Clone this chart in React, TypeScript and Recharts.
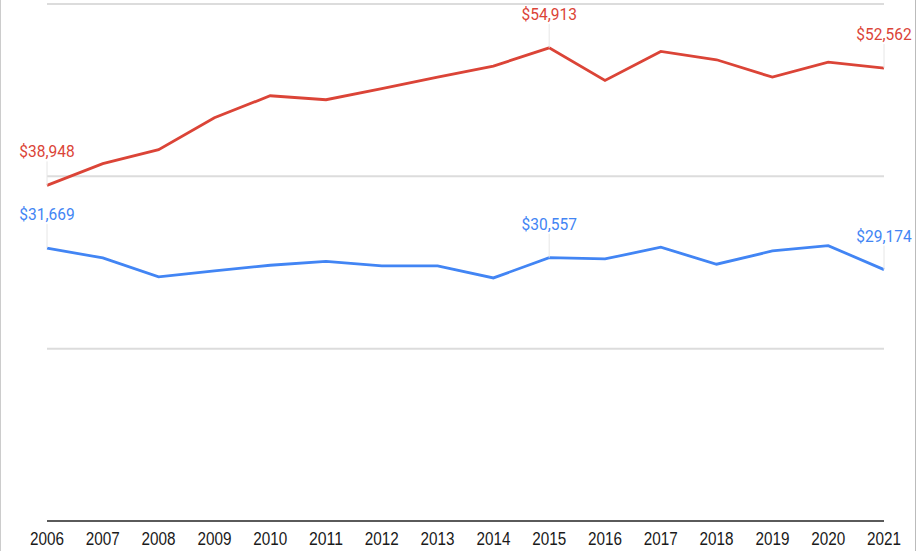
import { LineChart, Line, XAxis, YAxis, CartesianGrid, LabelList } from "recharts"

const years = ["2006", "2007", "2008", "2009", "2010", "2011", "2012", "2013", "2014", "2015", "2016", "2017", "2018", "2019", "2020", "2021"]
const redSeries = [38948, 41470, 43100, 46800, 49350, 48890, 50170, 51510, 52790, 54913, 51130, 54490, 53530, 51510, 53250, 52562]
const blueSeries = [31669, 30530, 28330, 29020, 29680, 30140, 29600, 29600, 28210, 30557, 30410, 31770, 29800, 31340, 31960, 29174]
const labelledIdx = [0, 9, 15]
const yTicks = [0, 20000, 40000, 60000]

const RED = "#db4437"
const BLUE = "#4285f4"

const data = years.map((y, i) => ({ year: y, red: redSeries[i], blue: blueSeries[i] }))

const fmt = (v: number) => "$" + v.toLocaleString("en-US")

function makeLabel(color: string) {
  return (props: any) => {
    const { x, y, value, index } = props
    if (!labelledIdx.includes(index)) return null
    const txt = fmt(value)
    return (
      <g>
        <line x1={x} x2={x} y1={y - 24} y2={y} stroke="#e6e6e6" strokeWidth={1} />
        <text
          x={x}
          y={y - 34}
          textAnchor="middle"
          dominantBaseline="central"
          fill={color}
          fontSize={17}
          fontFamily="Roboto, sans-serif"
          textLength={txt.length * 7.9}
          lengthAdjust="spacingAndGlyphs"
        >
          {txt}
        </text>
      </g>
    )
  }
}

function YearTick(props: any) {
  const { x, y, payload } = props
  return (
    <text
      x={x}
      y={y + 12}
      textAnchor="middle"
      dominantBaseline="central"
      fill="#1a1a1a"
      fontSize={18}
      fontFamily="'Liberation Sans', Arial, sans-serif"
      textLength={34}
      lengthAdjust="spacingAndGlyphs"
    >
      {payload.value}
    </text>
  )
}

export default function App() {
  return (
    <div style={{ position: "absolute", left: 0, top: 0, width: 917, height: 551, background: "#fff" }}>
      <LineChart width={917} height={551} data={data} margin={{ top: 4, right: 33, left: 47, bottom: 0 }}>
        <CartesianGrid vertical={false} stroke="#dcdcdc" strokeWidth={2} />
        <YAxis hide domain={[0, 60000]} ticks={yTicks} width={0} />
        <XAxis
          dataKey="year"
          height={30}
          interval={0}
          axisLine={{ stroke: "#5a5a5a", strokeWidth: 2 }}
          tickLine={false}
          tick={<YearTick />}
          tickMargin={0}
        />
        <Line dataKey="red" stroke={RED} strokeWidth={2.8} dot={false} isAnimationActive={false}>
          <LabelList dataKey="red" content={makeLabel(RED)} />
        </Line>
        <Line dataKey="blue" stroke={BLUE} strokeWidth={2.8} dot={false} isAnimationActive={false}>
          <LabelList dataKey="blue" content={makeLabel(BLUE)} />
        </Line>
      </LineChart>
      <div style={{ position: "absolute", left: 0, top: 0, width: 1, height: 551, background: "#ccc" }} />
      <div style={{ position: "absolute", left: 915, top: 0, width: 1, height: 551, background: "#bbb" }} />
    </div>
  )
}
